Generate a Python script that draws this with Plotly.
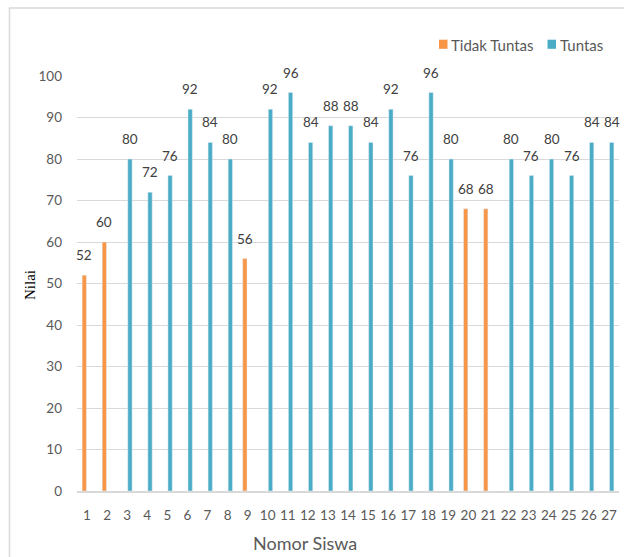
import plotly.graph_objects as go

# Student scores; students below the pass mark are "Tidak Tuntas"
siswa = list(range(1, 28))
nilai = [52, 60, 80, 72, 76, 92, 84, 80, 56, 92, 96, 84, 88, 88, 84, 92,
         76, 96, 80, 68, 68, 80, 76, 80, 76, 84, 84]
tidak_tuntas = [1, 2, 9, 20, 21]

nilai_tidak = [v if s in tidak_tuntas else None for s, v in zip(siswa, nilai)]
nilai_tuntas = [None if s in tidak_tuntas else v for s, v in zip(siswa, nilai)]

y_ticks = list(range(0, 101, 10))

ORANGE = "#F79646"
TEAL = "#4BACC6"
GRID = "#d9d9d9"
TEXT = "#595959"
FONT = "Lato"
TICK_SIZE = 13.5

W, H = 624, 557
ML, MR, MT, MB = 77, 5, 76, 66
PW, PH = W - ML - MR, H - MT - MB


def px(x):
    return (x - ML) / PW


def py(y):
    return (H - MB - y) / PH


fig = go.Figure()
fig.add_trace(go.Bar(x=siswa, y=nilai_tidak, name="Tidak Tuntas",
                     marker_color=ORANGE, showlegend=False))
fig.add_trace(go.Bar(x=siswa, y=nilai_tuntas, name="Tuntas",
                     marker_color=TEAL, showlegend=False))

BARGAP, GROUPGAP = 0.45, 0.22
slot = (1 - BARGAP) / 2
annotations = []
# value labels above each bar
for s, v in zip(siswa, nilai):
    off = -slot / 2 if s in tidak_tuntas else slot / 2
    annotations.append(dict(x=s + off, y=v, xref="x", yref="y", text=str(v),
                            showarrow=False, yanchor="bottom", yshift=10,
                            font=dict(family=FONT, size=TICK_SIZE, color="#404040")))

# axis titles
annotations.append(dict(x=px(305), y=py(543), xref="paper", yref="paper",
                        text="Nomor Siswa", showarrow=False,
                        xanchor="center", yanchor="middle",
                        font=dict(family=FONT, size=18, color=TEXT)))
annotations.append(dict(x=px(30), y=py(285), xref="paper", yref="paper",
                        text="Nilai", showarrow=False, textangle=-90,
                        xanchor="center", yanchor="middle",
                        font=dict(family="Liberation Serif", size=15, color="#000000")))

# legend entries
shapes = []
for color, label, sx, tx in [(ORANGE, "Tidak Tuntas", 439, 449),
                             (TEAL, "Tuntas", 547.5, 557.5)]:
    shapes.append(dict(type="rect", xref="paper", yref="paper",
                       x0=px(sx), x1=px(sx + 8.5), y0=py(48.8), y1=py(39.7),
                       fillcolor=color, line=dict(width=0)))
    annotations.append(dict(x=px(tx), y=py(44.5), xref="paper", yref="paper",
                            text=label, showarrow=False,
                            xanchor="left", yanchor="middle",
                            font=dict(family=FONT, size=15, color=TEXT)))

# chart frame
shapes.append(dict(type="rect", xref="paper", yref="paper", layer="below",
                   x0=px(9.5), x1=1.5, y0=-0.5, y1=py(8),
                   line=dict(color=GRID, width=1.5), fillcolor="rgba(0,0,0,0)"))

fig.update_layout(
    width=W, height=H,
    margin=dict(l=ML, r=MR, t=MT, b=MB),
    paper_bgcolor="white", plot_bgcolor="white",
    barmode="group", bargap=BARGAP, bargroupgap=GROUPGAP,
    font=dict(family=FONT, size=TICK_SIZE, color=TEXT),
    annotations=annotations, shapes=shapes,
)
fig.update_xaxes(range=[0.5, 27.5], tickmode="array", tickvals=siswa,
                 ticktext=[str(s) for s in siswa], showgrid=False,
                 showline=True, linecolor=GRID, linewidth=1.5,
                 ticks="", ticklabelstandoff=11, zeroline=False,
                 tickfont=dict(family=FONT, size=TICK_SIZE, color=TEXT))
fig.update_yaxes(range=[0, 100], tickmode="array", tickvals=y_ticks,
                 showgrid=True, gridcolor=GRID, gridwidth=1.3,
                 showline=False, zeroline=False, ticks="",
                 ticklabelstandoff=14,
                 tickfont=dict(family=FONT, size=TICK_SIZE, color=TEXT))

fig.write_html("out.html")
